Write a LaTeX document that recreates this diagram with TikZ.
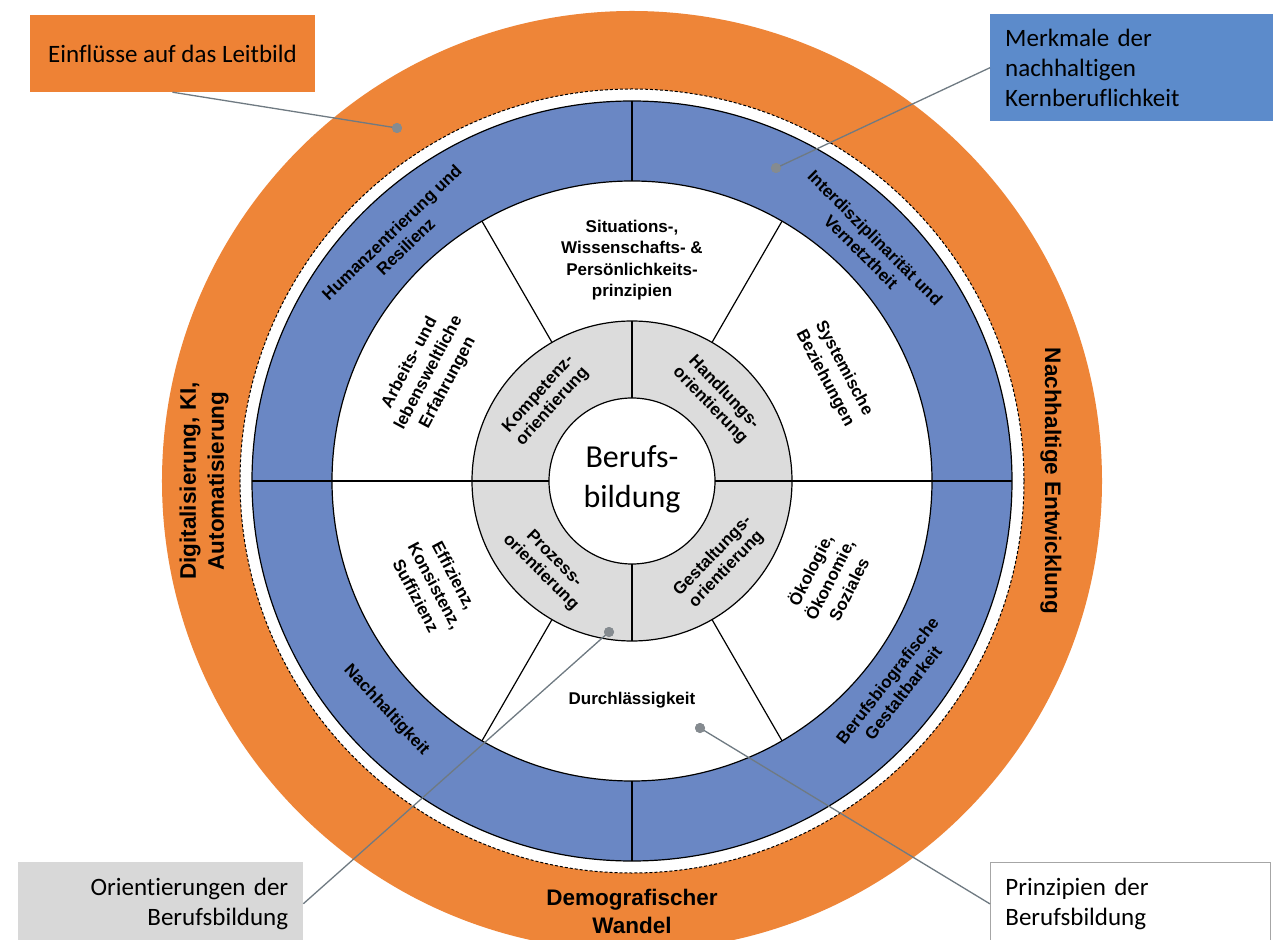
\documentclass[tikz,border=0pt]{standalone}
\usepackage{fontspec}
\setmainfont[Ligatures=CommonOff]{Liberation Sans}
\newfontfamily\calib[Ligatures=CommonOff]{Carlito}
\definecolor{orangering}{HTML}{EE8538}
\definecolor{boxorange}{HTML}{EE8235}
\definecolor{bluering}{HTML}{6A87C4}
\definecolor{boxblue}{HTML}{5C8BCB}
\definecolor{grayring}{HTML}{DCDCDC}
\definecolor{boxgray}{HTML}{D8D8D8}
\definecolor{conncol}{HTML}{6F7A82}
\definecolor{dotcol}{HTML}{858B90}
\begin{document}
\begin{tikzpicture}[x=1pt,y=1pt,
  outl/.style={draw=black, line width=1.2pt},
  blbl/.style={font=\bfseries\fontsize{17}{20}\selectfont, align=center, inner sep=0pt},
  wlbl/.style={font=\bfseries\fontsize{17}{21.5}\selectfont, align=center, inner sep=0pt},
  glbl/.style={font=\bfseries\fontsize{17}{19}\selectfont, align=center, inner sep=0pt},
  olbl/.style={font=\bfseries\fontsize{22.5}{28}\selectfont, align=center, inner sep=0pt},
  callout/.style={inner ysep=0pt, inner xsep=15pt, font=\calib\fontsize{25}{30}\selectfont},
  conn/.style={draw=conncol, line width=1.3pt},
  dot/.style={circle, fill=dotcol, inner sep=0pt, minimum size=10pt}]
\clip (-632,-458) rectangle (641,481);
\fill[white] (-632,-458) rectangle (641,481);
% orange ring
\fill[orangering, even odd rule] (0,0) circle (470) (0,0) circle (392);
\draw[line width=1pt, dash pattern=on 3pt off 2pt] (0,0) circle (392);
% blue ring
\fill[bluering] (0,0) circle (380);
\fill[white] (0,0) circle (300);
% gray ring
\fill[grayring] (0,0) circle (160);
\fill[white] (0,0) circle (83);
\draw[outl] (0,0) circle (380);
\draw[outl] (0,0) circle (300);
\draw[outl] (0,0) circle (160);
\draw[outl] (0,0) circle (83);
% dividers
\draw[outl] (-380,0) -- (-83,0);
\draw[outl] (83,0) -- (380,0);
\draw[outl] (0,83) -- (0,160);
\draw[outl] (0,-83) -- (0,-160);
\draw[outl] (0,300) -- (0,380);
\draw[outl] (0,-300) -- (0,-380);
\foreach \a in {60,120,240,300} \draw[outl] (\a:160) -- (\a:300);
% centre
\node[font=\calib\fontsize{32}{40}\selectfont, align=center, inner sep=0pt] (ctr) at (0,2) {Berufs-\\bildung};
% gray ring labels
\node[glbl, rotate=48] (g1) at (137:118) {Kompetenz-\\orientierung};
\node[glbl, rotate=-46] (g2) at (44:118) {Handlungs-\\orientierung};
\node[glbl, rotate=-45] (g3) at (225:120) {Prozess-\\orientierung};
\node[glbl, rotate=46] (g4) at (-43:120) {Gestaltungs-\\orientierung};
% white sector labels
\node[wlbl] (w1) at (0,221) {Situations-,\\Wissenschafts- \&\\Persönlichkeits-\\prinzipien};
\node[wlbl, rotate=62] (w2) at (152:230) {Arbeits- und\\lebensweltliche\\Erfahrungen};
\node[wlbl, rotate=-62] (w3) at (28:229) {Systemische\\Beziehungen};
\node[wlbl, rotate=-62] (w4) at (208:223) {Effizienz,\\Konsistenz,\\Suffizienz};
\node[wlbl] (w5) at (0,-219) {Durchlässigkeit};
\node[wlbl, rotate=63] (w6) at (-26.5:220) {Ökologie,\\Ökonomie,\\Soziales};
% blue ring labels
\node[blbl, rotate=44] (b1) at (134:336) {Humanzentrierung und\\Resilienz};
\node[blbl, rotate=-45] (b2) at (45:334) {Interdisziplinarität und\\Vernetztheit};
\node[blbl, rotate=-47] (b3) at (223:336) {Nachhaltigkeit};
\node[blbl, rotate=52] (b4) at (-38:334) {Berufsbiografische\\Gestaltbarkeit};
% orange ring labels
\node[olbl, rotate=90] (o1) at (-428,0) {Digitalisierung, KI,\\Automatisierung};
\node[olbl, rotate=-90] (o2) at (419,0) {Nachhaltige Entwicklung};
\node[olbl] (o3) at (0,-430) {Demografischer\\Wandel};
% callouts
\node[callout, fill=boxorange, minimum width=285pt, minimum height=77pt] (einfl) at (-459.5,427.5) {Einflüsse auf das Leitbild};
\node[callout, fill=boxblue, anchor=north west, text width=253pt, minimum height=107pt, align=left] (merk) at (358,467) {Merkmale der\\nachhaltigen\\Kernberuflichkeit};
\node[callout, fill=boxgray, anchor=north west, text width=255pt, minimum height=83pt, align=right] (orient) at (-614,-381) {Orientierungen der\\Berufsbildung};
\node[callout, fill=white, draw=gray!70, line width=0.8pt, anchor=north west, text width=250pt, minimum height=83pt, align=left] (prinz) at (358,-381) {Prinzipien der\\Berufsbildung};
% connectors
\node[dot] (d1) at (-235,353) {};
\node[dot] (d2) at (144,313) {};
\node[dot] (d3) at (-23,-151) {};
\node[dot] (d4) at (68,-247) {};
\draw[conn] (einfl.south) -- (d1.center);
\draw[conn] (merk.west) -- (d2.center);
\draw[conn] (orient.east) -- (d3.center);
\draw[conn] (prinz.west) -- (d4.center);
\node[dot] at (d1) {};
\node[dot] at (d2) {};
\node[dot] at (d3) {};
\node[dot] at (d4) {};
\end{tikzpicture}
\end{document}
